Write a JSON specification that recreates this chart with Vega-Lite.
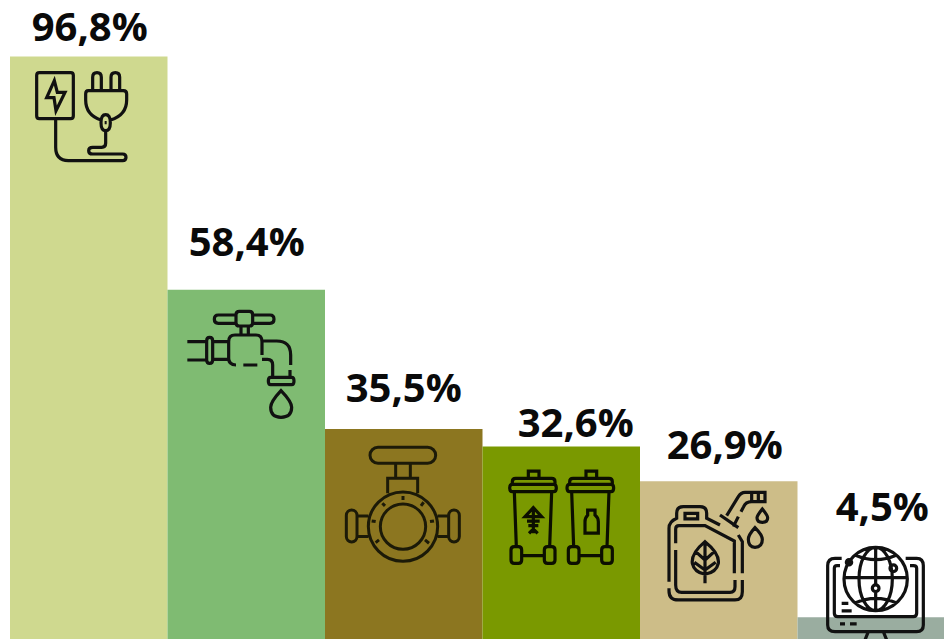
{
"$schema":"https://vega.github.io/schema/vega-lite/v6.json",
"width":944,"height":639,"padding":0,"autosize":{"type":"none"},
"background":"white",
"config":{"view":{"stroke":null}},
"data":{"values":[
{"category":"Electricity","value":96.8,"label":"96,8%"},
{"category":"Water","value":58.4,"label":"58,4%"},
{"category":"Gas","value":35.5,"label":"35,5%"},
{"category":"Waste","value":32.6,"label":"32,6%"},
{"category":"Fuel","value":26.9,"label":"26,9%"},
{"category":"Internet","value":4.5,"label":"4,5%"}
]},
"encoding":{
"x":{"field":"category","type":"nominal","axis":null,"sort":null,"scale":{"domain":["Electricity","Water","Gas","Waste","Fuel","Internet"],"range":[10,955],"padding":0}},
"y":{"field":"value","type":"quantitative","axis":null,"scale":{"domain":[0.92,106.1],"zero":false,"nice":false}}
},
"layer":[
{"mark":{"type":"bar","clip":true},"encoding":{"color":{"field":"category","type":"nominal","legend":null,"sort":null,"scale":{"domain":["Electricity","Water","Gas","Waste","Fuel","Internet"],"range":["#cfd98f","#7fbb72","#8c7620","#7a9900","#cdbd88","#9aada0"]}}}},
{"transform":[{"filter":"datum.category==='Electricity'"}],"mark":{"type":"text","font":"Open Sans","fontWeight":"bold","fontSize":40,"color":"#0a0a0a","baseline":"alphabetic","dx":1,"dy":-15.5},"encoding":{"text":{"field":"label"}}},
{"transform":[{"filter":"datum.category==='Water'"}],"mark":{"type":"text","font":"Open Sans","fontWeight":"bold","fontSize":40,"color":"#0a0a0a","baseline":"alphabetic","dx":0.5,"dy":-34},"encoding":{"text":{"field":"label"}}},
{"transform":[{"filter":"datum.category==='Gas'"}],"mark":{"type":"text","font":"Open Sans","fontWeight":"bold","fontSize":40,"color":"#0a0a0a","baseline":"alphabetic","dx":0,"dy":-27},"encoding":{"text":{"field":"label"}}},
{"transform":[{"filter":"datum.category==='Waste'"}],"mark":{"type":"text","font":"Open Sans","fontWeight":"bold","fontSize":40,"color":"#0a0a0a","baseline":"alphabetic","dx":14.5,"dy":-9.5},"encoding":{"text":{"field":"label"}}},
{"transform":[{"filter":"datum.category==='Fuel'"}],"mark":{"type":"text","font":"Open Sans","fontWeight":"bold","fontSize":40,"color":"#0a0a0a","baseline":"alphabetic","dx":6,"dy":-22},"encoding":{"text":{"field":"label"}}},
{"transform":[{"filter":"datum.category==='Internet'"}],"mark":{"type":"text","font":"Open Sans","fontWeight":"bold","fontSize":40,"color":"#0a0a0a","baseline":"alphabetic","dx":6,"dy":-96},"encoding":{"text":{"field":"label"}}},
{"transform":[{"filter":"datum.category==='Electricity'"}],"mark":{"type":"point","filled":false,"opacity":1,"stroke":"#111111","strokeWidth":3.2,"size":0.44444,"xOffset":-68.75,"yOffset":3.5,"shape":"M58 38H152Q160 38 160 46V168Q160 176 152 176H58Q50 176 50 168V46Q50 38 58 38ZM103 62L80 113H102L108 152L135 97H112ZM107 176V262Q107 302 145 302H308Q318 302 318 292Q318 282 308 282H218Q206 282 206 272Q206 262 218 262H245Q257 262 257 250V212M218 95V52Q218 38 231 38Q244 38 244 52V95M273 95V52Q273 38 286 38Q299 38 299 52V95M205 92H310Q320 92 320 102V120Q320 165 272 180M205 92Q197 92 197 102V120Q197 165 243 180M257 164Q271 164 271 188Q271 212 257 212Q243 212 243 188Q243 164 257 164ZM254 188H260"}},
{"transform":[{"filter":"datum.category==='Water'"}],"mark":{"type":"point","filled":false,"opacity":1,"stroke":"#111111","strokeWidth":3.2,"size":0.44444,"xOffset":-66.25,"yOffset":10.2,"shape":"M168 45H115Q103 45 103 58Q103 70 115 70H168M218 45H270Q282 45 282 58Q282 70 270 70H218M178 34H208Q218 34 218 44V68Q218 78 208 78H178Q168 78 168 68V44Q168 34 178 34ZM183 78V105M205 78V105M168 195Q146 195 146 175V125Q146 105 165 105H228Q246 105 246 125V165M246 123H290Q332 123 332 165V195M190 195H232M246 178H262Q278 178 278 195V232M330 210V232M272 232H335Q342 232 342 243Q342 254 335 254H272Q265 254 265 243Q265 232 272 232ZM22 125H78M22 180H78M80 122Q80 112 89 112Q98 112 98 122V180Q98 190 89 190Q80 190 80 180ZM98 125H146M98 178H146M303 272Q272 305 272 322Q272 352 303 352Q335 352 335 322Q335 305 303 272Z"}},
{"transform":[{"filter":"datum.category==='Gas'"}],"mark":{"type":"point","filled":false,"opacity":1,"stroke":"#1c1a08","strokeWidth":3,"size":0.44444,"xOffset":-68.75,"yOffset":11,"shape":"M129 22H278A24 24 0 0 1 278 70H129A24 24 0 0 1 129 22ZM182 70V115M226 70V115M158 160V115H248V160M100 260A104 104 0 1 1 308 260A104 104 0 1 1 100 260ZM136 260A68 68 0 1 1 272 260A68 68 0 1 1 136 260ZM204 168V180M142 190L150 198M258 198L266 187M110 243L122 245M285 245L297 243M122 308L132 300M270 300L282 310M68 228H100M68 290H100M308 228H340M308 290H340M50 210A16 16 0 0 1 66 226V290A16 16 0 0 1 34 290V226A16 16 0 0 1 50 210ZM357 210A16 16 0 0 1 373 226V290A16 16 0 0 1 341 290V226A16 16 0 0 1 357 210Z"}},
{"transform":[{"filter":"datum.category==='Waste'"}],"mark":{"type":"point","filled":false,"opacity":1,"stroke":"#0c0f00","strokeWidth":3.2,"size":0.44444,"xOffset":-66.25,"yOffset":18.5,"shape":"M100 38V18H132V38M52 58V50Q52 40 62 40H170Q180 40 180 50V58M52 58H176Q184 58 184 69Q184 80 176 80H52Q44 80 44 69Q44 58 52 58ZM58 80L64 245M170 80L164 245M58 245H70Q80 245 80 255V285Q80 295 70 295H58Q48 295 48 285V255Q48 245 58 245ZM158 245H170Q180 245 180 255V285Q180 295 170 295H158Q148 295 148 285V255Q148 245 158 245ZM80 272H148M115 128V205M115 128L90 155H140ZM96 168H134M100 182H130M102 205L115 192L128 205M273 38V18H305V38M224 58V50Q224 40 234 40H342Q352 40 352 50V58M224 58H348Q356 58 356 69Q356 80 348 80H224Q216 80 216 69Q216 58 224 58ZM230 80L236 245M342 80L336 245M230 245H242Q252 245 252 255V285Q252 295 242 295H230Q220 295 220 285V255Q220 245 230 245ZM330 245H342Q352 245 352 255V285Q352 295 342 295H330Q320 295 320 285V255Q320 245 330 245ZM252 272H320M278 135H300V150Q310 158 310 170V204H270V170Q270 158 278 150Z"}},
{"transform":[{"filter":"datum.category==='Fuel'"}],"mark":{"type":"point","filled":false,"opacity":1,"stroke":"#111111","strokeWidth":3.2,"size":0.44444,"xOffset":-63.75,"yOffset":3.8,"shape":"M42 290V130Q42 110 65 100V85Q65 65 85 65H135Q155 65 155 85V100L195 120M262 285V320Q262 345 240 345H70Q42 345 42 318V310M262 265V170L250 150M62 175V132Q62 122 72 122H150L238 168V265M62 195V300Q62 322 80 322H225Q240 322 240 305V285M90 85H128V102H90ZM215 92L250 35Q258 22 270 22H330V50H290Q272 50 266 65L258 80M250 95L235 125M195 90L250 128M290 22V50M310 22V50M322 72Q306 92 306 98Q306 112 322 112Q338 112 338 98Q338 92 322 72ZM300 128Q280 150 280 163Q280 187 300 187Q322 187 322 163Q322 150 300 128ZM150 170Q108 205 112 235Q118 262 150 268Q184 262 190 235Q194 205 150 170ZM150 170V295M150 225L122 200M150 225L178 200M150 255L118 232M150 255L182 232"}},
{"transform":[{"filter":"datum.category==='Internet'"}],"mark":{"type":"point","filled":false,"opacity":1,"stroke":"#111111","strokeWidth":3.2,"size":0.44444,"xOffset":-61.25,"yOffset":-82.3,"clip":true,"shape":"M87 132A95 95 0 1 1 277 132A95 95 0 1 1 87 132ZM132 132A50 95 0 1 1 232 132A50 95 0 1 1 132 132ZM182 37V150M182 170V227M88 128H277M120 60Q182 88 245 60M120 204Q182 176 245 204M94 82A8 8 0 1 1 110 82A8 8 0 1 1 94 82ZM225 100A10 10 0 1 1 245 100A10 10 0 1 1 225 100ZM172 160A10 10 0 1 1 192 160A10 10 0 1 1 172 160ZM80 70H60Q38 70 38 92V270Q38 290 60 290H305Q325 290 325 270V92Q325 70 305 70H272M75 92H66Q58 92 58 100V235Q58 245 68 245H295Q305 245 305 235V100Q305 92 295 92H285M80 205H100M80 228H110M75 267H90M105 267H125M160 290L150 315M205 290L215 315"}}
]
}
